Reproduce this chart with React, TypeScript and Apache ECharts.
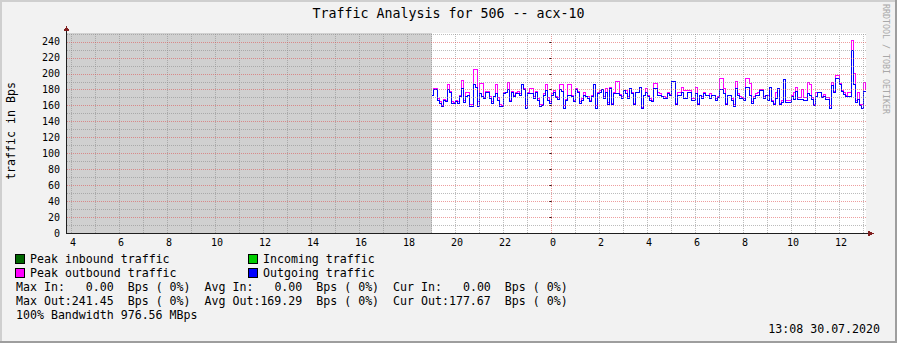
import { useEffect, useRef } from "react";
import * as echarts from "echarts";

// ---------- texts ----------
const TITLE = "Traffic Analysis for 506 -- acx-10";
const Y_AXIS_NAME = "traffic in Bps";
const WATERMARK = "RRDTOOL / TOBI OETIKER";
const TIMESTAMP = "13:08 30.07.2020";

// ---------- axes (hours relative to 00:00 on 30.07) ----------
const X_MIN = -20.1875;
const X_MAX = 13.104;
const Y_MAX = 251.3;
const UNKNOWN_END = -5; // no data before 19:00
const SAMPLE_START = -5; // first sample 19:00
const SAMPLE_STEP_MIN = 5;

const X_LABEL_HOURS = [-20, -18, -16, -14, -12, -10, -8, -6, -4, -2, 0, 2, 4, 6, 8, 10, 12];
const X_GRID_HOURS = [
  -20, -19, -18, -17, -16, -15, -14, -13, -12, -11, -10, -9, -8, -7, -6, -5, -4, -3, -2, -1,
  1, 2, 3, 4, 5, 6, 7, 8, 9, 10, 11, 12, 13,
];
const X_MAJOR_HOURS = [0];
const Y_LABELS = [0, 20, 40, 60, 80, 100, 120, 140, 160, 180, 200, 220, 240];
const Y_MINOR = [10, 30, 50, 70, 90, 110, 130, 150, 170, 190, 210, 230, 250];

// ---------- series (Bps, 5-minute samples) ----------
const OUT = [
  173, 180, 180, 167, 163, 159, 167, 165, 180, 177,
  163, 163, 165, 163, 171, 182, 164, 171, 173, 159,
  159, 186, 183, 159, 175, 171, 169, 177, 177, 169,
  163, 171, 175, 167, 159, 159, 175, 177, 180, 165,
  177, 171, 175, 175, 173, 186, 180, 157, 175, 175,
  175, 169, 177, 167, 159, 160, 173, 179, 167, 163,
  173, 177, 170, 168, 180, 178, 157, 166, 173, 173,
  171, 165, 180, 176, 163, 167, 173, 171, 169, 165,
  171, 186, 157, 175, 177, 180, 169, 177, 162, 181,
  161, 175, 175, 175, 173, 169, 179, 175, 169, 181,
  175, 161, 177, 177, 183, 156, 173, 177, 171, 167,
  165, 181, 181, 173, 173, 171, 169, 169, 175, 173,
  190, 190, 161, 173, 173, 177, 169, 169, 177, 177,
  167, 167, 175, 161, 173, 169, 175, 173, 173, 169,
  173, 173, 167, 170, 180, 180, 175, 161, 173, 173,
  167, 159, 181, 173, 169, 169, 167, 183, 183, 173,
  163, 169, 173, 173, 179, 179, 169, 173, 167, 183,
  165, 161, 169, 181, 161, 164, 193, 164, 164, 164,
  171, 168, 178, 168, 168, 168, 166, 166, 175, 173,
  168, 160, 172, 176, 176, 170, 172, 168, 168, 157,
  185, 176, 194, 194, 187, 178, 174, 172, 172, 172,
  229, 187, 164, 168, 160, 157, 178, 177.67,
];
const PEAK_OUT = [
  173, 182, 182, 169, 165, 160, 168, 167, 187, 178,
  165, 164, 166, 165, 173, 191, 166, 176, 176, 162,
  161, 206, 206, 165, 188, 188, 170, 178, 178, 171,
  165, 172, 186, 170, 161, 160, 176, 177, 189, 167,
  178, 173, 176, 178, 175, 187, 181, 160, 176, 182,
  182, 171, 178, 169, 161, 162, 175, 186, 170, 165,
  175, 179, 172, 170, 186, 186, 160, 168, 186, 186,
  173, 167, 181, 178, 165, 169, 177, 172, 171, 167,
  173, 186, 160, 176, 179, 180, 171, 181, 164, 183,
  163, 176, 190, 190, 174, 171, 179, 179, 171, 182,
  176, 163, 177, 177, 183, 158, 173, 181, 173, 169,
  167, 188, 188, 177, 175, 172, 171, 170, 176, 174,
  190, 190, 163, 177, 177, 183, 179, 179, 179, 179,
  169, 169, 183, 163, 173, 171, 177, 173, 173, 175,
  173, 173, 169, 172, 194, 194, 181, 163, 173, 173,
  169, 161, 190, 175, 171, 170, 169, 194, 194, 188,
  165, 171, 175, 177, 180, 180, 171, 173, 173, 183,
  167, 163, 177, 181, 163, 166, 193, 166, 166, 166,
  173, 176, 183, 170, 170, 180, 170, 170, 189, 187,
  170, 162, 176, 176, 176, 172, 174, 170, 170, 160,
  189, 178, 198, 198, 188, 179, 176, 173, 176, 176,
  241.45, 200, 166, 176, 162, 162, 189, 180,
];

// ---------- legend / statistics ----------
const LEGEND_ITEMS = [
  { name: "Peak inbound traffic", color: "#006600" },
  { name: "Incoming traffic", color: "#00cc00" },
  { name: "Peak outbound traffic", color: "#ff00ff" },
  { name: "Outgoing traffic", color: "#0000ff" },
];
const STAT_LINES = [
  "Max In:   0.00  Bps ( 0%)  Avg In:   0.00  Bps ( 0%)  Cur In:   0.00  Bps ( 0%)",
  "Max Out:241.45  Bps ( 0%)  Avg Out:169.29  Bps ( 0%)  Cur Out:177.67  Bps ( 0%)",
  "100% Bandwidth 976.56 MBps",
];

// ---------- styling / layout ----------
const W = 897;
const H = 343;
const GRID = { left: 67, top: 33, width: 799, height: 200 };
const MONO = '"DejaVu Sans Mono", "Liberation Mono", monospace';
const SMALL = 11.6;
const CHAR_W = SMALL * 0.602;
const BLUE = "#0000ff";
const MAGENTA = "#ff00ff";

function minorGrid() {
  return { color: "rgba(143,143,143,0.6)", width: 1, type: [1, 1] };
}
function majorGrid() {
  return { color: "rgba(222,79,79,0.55)", width: 1, type: [1, 1] };
}

function segments(s: string) {
  const out: { text: string; col: number }[] = [];
  const re = /\S+(?: \S+)*/g;
  let m: RegExpExecArray | null;
  while ((m = re.exec(s))) out.push({ text: m[0], col: m.index });
  return out;
}

function txt(x: number, y: number, text: string, extra: any = {}) {
  const { align = "left", size = SMALL, fill = "#000", rotation = 0 } = extra;
  return {
    type: "text",
    x,
    y,
    rotation,
    z: 20,
    silent: true,
    style: {
      text,
      font: `${size}px ${MONO}`,
      fontFamily: MONO,
      fontSize: size,
      fill,
      align,
      textAlign: align,
      verticalAlign: "middle",
      textVerticalAlign: "middle",
    },
  };
}

function buildOption() {
  const toPoints = (arr: number[]) =>
    arr.map((v, i) => [SAMPLE_START + (i * SAMPLE_STEP_MIN) / 60, v]);

  const bottom = GRID.top + GRID.height;
  const axisX = GRID.left - 0.5;
  const axisY = bottom + 0.5;

  const graphics: any[] = [];
  graphics.push({ type: "rect", shape: { x: 0, y: 0, width: W, height: 2 }, style: { fill: "#cfcfcf" }, z: 1 });
  graphics.push({ type: "rect", shape: { x: 0, y: 0, width: 2, height: H }, style: { fill: "#cfcfcf" }, z: 1 });
  graphics.push({ type: "rect", shape: { x: 0, y: H - 2, width: W, height: 2 }, style: { fill: "#9e9e9e" }, z: 1 });
  graphics.push({ type: "rect", shape: { x: W - 2, y: 0, width: 2, height: H }, style: { fill: "#9e9e9e" }, z: 1 });

  graphics.push({
    type: "line",
    shape: { x1: axisX, y1: bottom, x2: axisX, y2: GRID.top - 3 },
    style: { stroke: "#1f1f1f", lineWidth: 1 },
    z: 15,
  });
  graphics.push({
    type: "line",
    shape: { x1: GRID.left - 1, y1: axisY, x2: GRID.left + GRID.width + 3, y2: axisY },
    style: { stroke: "#1f1f1f", lineWidth: 1 },
    z: 15,
  });
  graphics.push({
    type: "polygon",
    shape: { points: [[axisX - 3, GRID.top - 2], [axisX + 3, GRID.top - 2], [axisX, GRID.top - 7]] },
    style: { fill: "#801f1f" },
    z: 16,
  });
  const xe = GRID.left + GRID.width + 2;
  graphics.push({
    type: "polygon",
    shape: { points: [[xe, axisY - 3], [xe, axisY + 3], [xe + 6, axisY]] },
    style: { fill: "#801f1f" },
    z: 16,
  });

  graphics.push(txt(W / 2, 13, TITLE, { align: "center", size: 13.3 }));
  graphics.push(txt(11, 131, Y_AXIS_NAME, { align: "center", rotation: Math.PI / 2 }));
  graphics.push(txt(886, 59, WATERMARK, { align: "center", size: 8.3, fill: "#a8a8a8", rotation: -Math.PI / 2 }));
  graphics.push(txt(880, 329, TIMESTAMP, { align: "right" }));

  LEGEND_ITEMS.forEach((it, k) => {
    const colX = k % 2 === 0 ? 15 : 248;
    const rowY = 259 + Math.floor(k / 2) * 14;
    graphics.push({
      type: "rect",
      shape: { x: colX + 0.5, y: rowY - 4.5, width: 9, height: 9 },
      style: { fill: it.color, stroke: "#000", lineWidth: 1 },
      z: 20,
    });
    graphics.push(txt(colX + 15, rowY, it.name));
  });

  STAT_LINES.forEach((line, r) => {
    const y = 287 + r * 14;
    segments(line).forEach((s) => graphics.push(txt(16 + s.col * CHAR_W, y, s.text)));
  });

  const gridMarks: any[] = [];
  X_GRID_HOURS.forEach((h) => gridMarks.push({ xAxis: h, lineStyle: minorGrid() }));
  X_MAJOR_HOURS.forEach((h) => gridMarks.push({ xAxis: h, lineStyle: majorGrid() }));
  Y_MINOR.forEach((v) => gridMarks.push({ yAxis: v, lineStyle: minorGrid() }));
  Y_LABELS.filter((v) => v !== 0).forEach((v) => gridMarks.push({ yAxis: v, lineStyle: majorGrid() }));

  const dataLine = (name: string, arr: number[], color: string, z: number) => ({
    name,
    type: "line",
    step: "end",
    data: toPoints(arr),
    symbol: "none",
    showSymbol: false,
    color,
    lineStyle: { color, width: 1, opacity: 1, type: "solid" },
    itemStyle: { color },
    emphasis: { disabled: true },
    z,
  });

  return {
    animation: false,
    color: [MAGENTA, BLUE],
    backgroundColor: "#f2f2f2",
    grid: { ...GRID, backgroundColor: "#ffffff", show: true, borderWidth: 0 },
    xAxis: {
      type: "value",
      min: X_MIN,
      max: X_MAX,
      axisLine: { show: false },
      axisTick: { show: false },
      splitLine: { show: false },
      axisLabel: {
        customValues: X_LABEL_HOURS,
        formatter: (v: number) => String((((Math.round(v) % 24) + 24) % 24)),
        fontFamily: MONO,
        fontSize: 10,
        color: "#000",
        margin: 4,
        padding: [0, 0, 0, 3],
      },
    },
    yAxis: {
      type: "value",
      min: 0,
      max: Y_MAX,
      axisLine: { show: false },
      axisTick: { show: true, customValues: Y_LABELS, length: 3, lineStyle: { color: "#1f1f1f" } },
      splitLine: { show: false },
      axisLabel: {
        customValues: Y_LABELS,
        fontFamily: MONO,
        fontSize: 10,
        color: "#000",
        margin: 7,
      },
    },
    graphic: { elements: graphics },
    series: [
      {
        type: "line",
        data: [[X_MIN, 0]],
        symbol: "none",
        lineStyle: { opacity: 0 },
        silent: true,
        z: 1,
        markArea: {
          silent: true,
          itemStyle: { color: "#d0d0d0" },
          data: [[{ xAxis: X_MIN }, { xAxis: UNKNOWN_END }]],
        },
      },
      {
        type: "line",
        data: [[X_MIN, 0]],
        symbol: "none",
        lineStyle: { opacity: 0 },
        silent: true,
        z: 2,
        markLine: {
          silent: true,
          symbol: ["none", "none"],
          label: { show: false },
          data: gridMarks,
        },
      },
      dataLine("Peak outbound traffic", PEAK_OUT, MAGENTA, 3),
      dataLine("Outgoing traffic", OUT, BLUE, 4),
    ],
  };
}

export default function App() {
  const ref = useRef<HTMLDivElement>(null);
  useEffect(() => {
    const el = ref.current!;
    const chart = echarts.init(el, null, { renderer: "svg" });
    chart.setOption(buildOption() as any);
    const svg = el.querySelector("svg");
    if (svg) svg.setAttribute("shape-rendering", "crispEdges");
    return () => chart.dispose();
  }, []);
  return (
    <div
      ref={ref}
      style={{ position: "fixed", left: 0, top: 0, width: W, height: H }}
    />
  );
}
